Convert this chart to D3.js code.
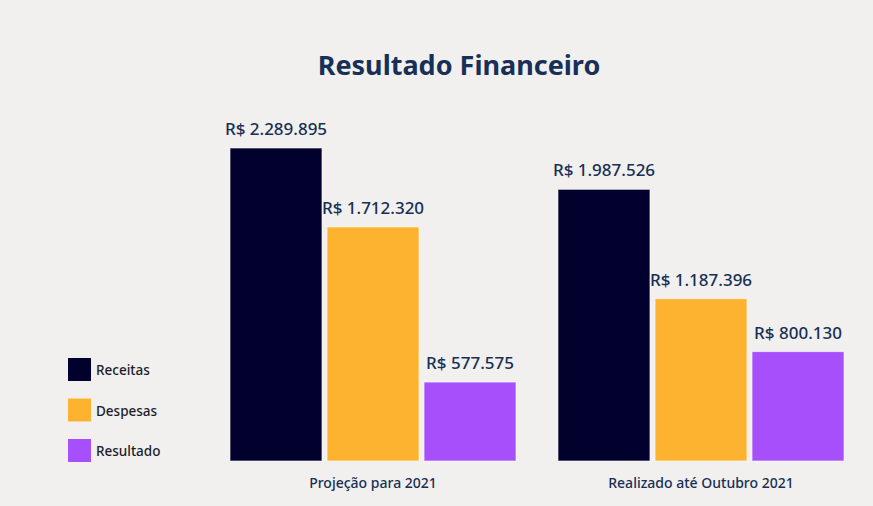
<!DOCTYPE html>
<html>
<head>
<meta charset="utf-8">
<script src="https://cdn.jsdelivr.net/npm/d3@7"></script>
<style>
  html, body { margin: 0; padding: 0; background: #f1f0ee; }
  svg { display: block; font-family: "Noto Sans", "Open Sans", sans-serif; }
</style>
</head>
<body>
<div id="chart"></div>
<script>
const GROUPS = ['Projeção para 2021', 'Realizado até Outubro 2021'];
const SERIES = ['Receitas', 'Despesas', 'Resultado'];
const RECEITAS = [2289895, 1987526];
const DESPESAS = [1712320, 1187396];
const RESULTADO = [577575, 800130];
const COLORS = ['#02012d', '#fdb32f', '#a84ffc'];

const w = 873, h = 506;
const baseline = 461;

const svg = d3.select('#chart').append('svg')
  .attr('width', w).attr('height', h);

svg.append('rect').attr('width', w).attr('height', h).attr('fill', '#f1f0ee');

svg.append('text')
  .attr('x', 459).attr('y', 75)
  .attr('text-anchor', 'middle')
  .attr('font-size', '27px')
  .attr('font-weight', 'bold')
  .attr('fill', '#183057')
  .text('Resultado Financeiro');

const values = [RECEITAS, DESPESAS, RESULTADO];
const data = GROUPS.map((g, gi) => ({
  group: g,
  bars: SERIES.map((s, si) => ({ series: s, value: values[si][gi], color: COLORS[si] }))
}));

const x0 = d3.scaleBand().domain(GROUPS).range([230, 844]).paddingInner(0.128);
const x1 = d3.scaleBand().domain(SERIES).range([0, x0.bandwidth()]).paddingInner(0.052);
const y = d3.scaleLinear().domain([0, 2289895]).range([baseline, 148]);

const fmt = v => 'R$ ' + d3.format(',')(v).replace(/,/g, '.');

const groups = svg.selectAll('g.group')
  .data(data)
  .join('g')
  .attr('class', 'group')
  .attr('transform', d => `translate(${x0(d.group)},0)`);

groups.selectAll('rect')
  .data(d => d.bars)
  .join('rect')
  .attr('x', d => x1(d.series))
  .attr('y', d => y(d.value))
  .attr('width', x1.bandwidth())
  .attr('height', d => baseline - y(d.value))
  .attr('fill', d => d.color)
  .attr('stroke', '#ffffff')
  .attr('stroke-opacity', 0.6)
  .attr('stroke-width', 1);

groups.selectAll('text.val')
  .data(d => d.bars)
  .join('text')
  .attr('class', 'val')
  .attr('x', d => x1(d.series) + x1.bandwidth() / 2)
  .attr('y', d => y(d.value) - 13)
  .attr('text-anchor', 'middle')
  .attr('font-size', '17px')
  .attr('font-weight', 500)
  .attr('fill', '#172f55')
  .text(d => fmt(d.value));

svg.selectAll('text.cat')
  .data(GROUPS)
  .join('text')
  .attr('class', 'cat')
  .attr('x', d => x0(d) + x0.bandwidth() / 2)
  .attr('y', 488)
  .attr('text-anchor', 'middle')
  .attr('font-size', '14px')
  .attr('font-weight', 500)
  .attr('fill', '#172f55')
  .text(d => d);

const legend = svg.selectAll('g.legend')
  .data(SERIES)
  .join('g')
  .attr('class', 'legend')
  .attr('transform', (d, i) => `translate(68,${358 + i * 40.5})`);

legend.append('rect')
  .attr('width', 23).attr('height', 23)
  .attr('fill', (d, i) => COLORS[i]);

legend.append('text')
  .attr('x', 28).attr('y', 17)
  .attr('font-size', '13.5px')
  .attr('font-weight', 500)
  .attr('fill', '#1c1c2c')
  .text(d => d);
</script>
</body>
</html>
